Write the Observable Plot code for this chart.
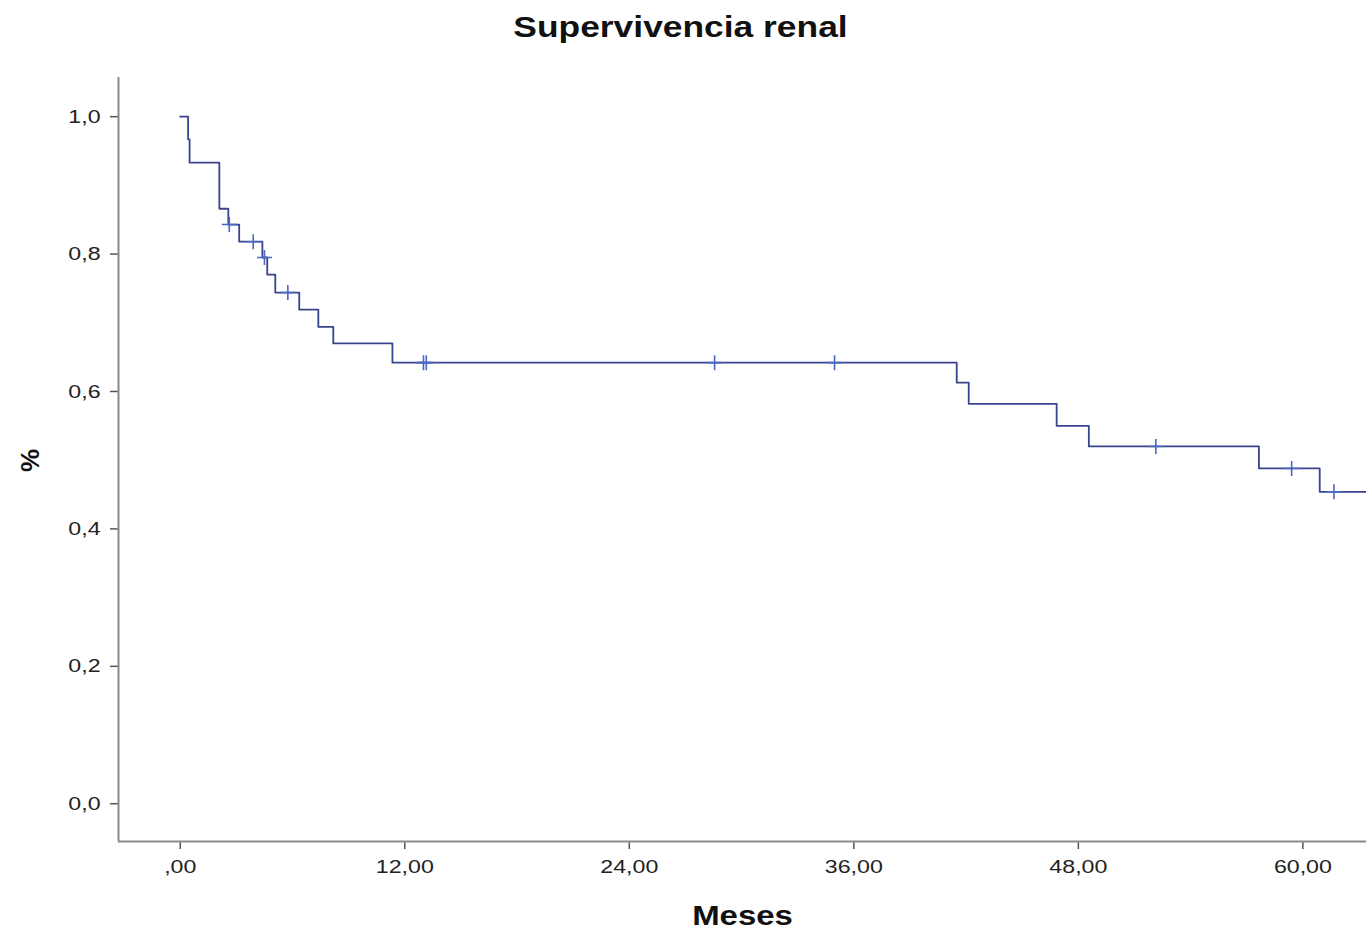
<!DOCTYPE html>
<html>
<head>
<meta charset="utf-8">
<script src="https://cdn.jsdelivr.net/npm/d3@7"></script>
<script src="https://cdn.jsdelivr.net/npm/@observablehq/plot@0.6"></script>
<style>
  html, body { margin: 0; padding: 0; background: #fff; }
  svg { display: block; }
</style>
</head>
<body>
<div id="chart"></div>
<script>
// Kaplan–Meier step data (months, survival proportion)
const stepTime = [0, 0.42, 0.5, 2.09, 2.57, 3.15, 4.39, 4.65, 5.08, 6.36, 7.38, 8.18, 11.34, 41.5, 42.14, 46.84, 48.56, 57.65, 60.9, 63.4];
const survival = [1.0, 0.967, 0.933, 0.866, 0.843, 0.818, 0.795, 0.770, 0.744, 0.719, 0.694, 0.670, 0.642, 0.613, 0.582, 0.550, 0.520, 0.488, 0.454, 0.454];

// Censored observations
const censorTime = [2.62, 3.9, 4.5, 5.75, 13.0, 13.15, 28.56, 34.97, 52.14, 59.4, 61.66];
const censorSurv = [0.843, 0.818, 0.795, 0.744, 0.642, 0.642, 0.642, 0.642, 0.520, 0.488, 0.454];

// Axes
const xTicks = [0, 12, 24, 36, 48, 60];
const xTickLabels = [",00", "12,00", "24,00", "36,00", "48,00", "60,00"];
const yTicks = [0, 0.2, 0.4, 0.6, 0.8, 1.0];
const yTickLabels = ["0,0", "0,2", "0,4", "0,6", "0,8", "1,0"];
const xDomain = [-3.3, 63.4];
const yDomain = [-0.055, 1.057];

const title = "Supervivencia renal";
const xLabel = "Meses";
const yLabel = "%";

const steps = stepTime.map((t, i) => ({t, s: survival[i]}));
const censors = censorTime.map((t, i) => ({t, s: censorSurv[i]}));

const plusSymbol = {
  draw(ctx, size) {
    const r = Math.sqrt(size / Math.PI);
    ctx.moveTo(-r, 0); ctx.lineTo(r, 0);
    ctx.moveTo(0, -r); ctx.lineTo(0, r);
  }
};

const chart = Plot.plot({
  width: 1366,
  height: 931,
  marginLeft: 118,
  marginRight: 0,
  marginTop: 77,
  marginBottom: 90,
  style: {fontFamily: "'Liberation Sans', Arial, sans-serif", color: "#222", background: "#fff"},
  x: {domain: xDomain},
  y: {domain: yDomain},
  marks: [
    Plot.axisX({ticks: xTicks, tickFormat: d => xTickLabels[xTicks.indexOf(d)], tickSize: 8, tickPadding: 10, fontSize: 19, stroke: "#555", strokeWidth: 1.5, label: null}),
    Plot.axisY({ticks: yTicks, tickFormat: d => yTickLabels[yTicks.findIndex(v => Math.abs(v - d) < 1e-9)], tickSize: 8, tickPadding: 10, fontSize: 19, stroke: "#555", strokeWidth: 1.5, label: null}),
    Plot.ruleX([xDomain[0]], {stroke: "#8a8a8a", strokeWidth: 2}),
    Plot.ruleY([yDomain[0]], {stroke: "#8a8a8a", strokeWidth: 2}),
    Plot.line(steps, {x: "t", y: "s", curve: "step-after", stroke: "#3a448e", strokeWidth: 1.8}),
    Plot.dot(censors, {x: "t", y: "s", symbol: plusSymbol, r: 7.5, stroke: "#4a67c4", strokeWidth: 1.6, fill: "none"}),
    Plot.text([title], {frameAnchor: "top", lineAnchor: "middle", dx: -62, dy: -50, fontSize: 29, fontWeight: "bold", fill: "#111"}),
    Plot.text([xLabel], {frameAnchor: "bottom", lineAnchor: "middle", dy: 75, fontSize: 27, fontWeight: "bold", fill: "#111"}),
    Plot.text([yLabel], {frameAnchor: "left", textAnchor: "middle", lineAnchor: "middle", dx: -88, dy: 1, rotate: -90, fontSize: 26, fontWeight: "bold", fill: "#111"})
  ]
});

document.getElementById("chart").appendChild(chart);

// SPSS output is horizontally stretched; widen glyphs slightly to match
d3.select(chart).selectAll("text").each(function() {
  const el = this;
  const rotated = (el.getAttribute("transform") || "").includes("rotate");
  if (rotated) return;
  const len = el.getComputedTextLength();
  if (len > 0) {
    el.setAttribute("textLength", (len * 1.22).toFixed(1));
    el.setAttribute("lengthAdjust", "spacingAndGlyphs");
  }
});
</script>
</body>
</html>
